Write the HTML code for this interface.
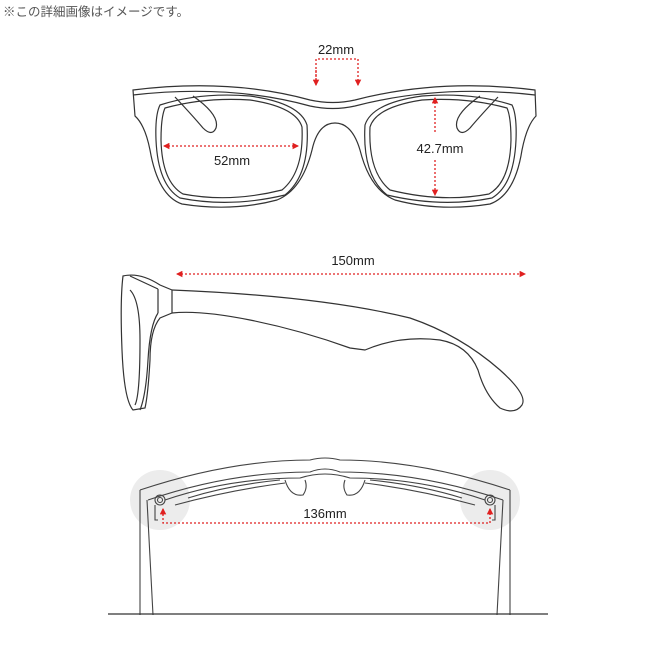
<!DOCTYPE html>
<html><head><meta charset="utf-8"><style>
body{margin:0;background:#fff;width:650px;height:650px;overflow:hidden}
svg{display:block}
text{font-family:"Liberation Sans","Noto Sans CJK JP",sans-serif}
</style></head><body>
<svg width="650" height="650" viewBox="0 0 650 650" xmlns="http://www.w3.org/2000/svg">
<defs>
<marker id="a" viewBox="0 0 6 6" refX="5" refY="3" markerWidth="5" markerHeight="5" orient="auto-start-reverse"><path d="M0,0L6,3L0,6z" fill="#e02020"/></marker>
</defs>
<text x="3" y="16" font-size="12.5" fill="#555">※この詳細画像はイメージです。</text>

<!-- FRONT VIEW -->
<g fill="none" stroke="#333" stroke-width="1.2">
<path d="M133,90 Q230,78 310,100 Q333,105 355,100 Q440,78 535,90 L536,116 Q527,125 522,150 Q515,195 490,204 Q440,212 395,200 Q370,190 360,150 Q352,123 335,123 Q318,123 312,150 Q302,190 277,200 Q232,212 182,204 Q158,196 150,150 Q145,125 135,116 Z"/>
<path d="M133,95 Q230,84 310,106 Q333,111 355,106 Q440,84 535,95"/>
<path d="M160,105 Q200,92 250,96 Q300,103 307,125 Q310,175 285,195 Q230,208 180,198 Q158,185 156,140 Q155,115 160,105Z"/>
<path d="M165,108 Q205,97 250,100 Q296,107 302,127 Q304,172 282,190 Q230,203 183,194 Q162,182 161,140 Q161,117 165,108Z"/>
<path d="M512,105 Q472,92 422,96 Q372,103 365,125 Q362,175 387,195 Q442,208 492,198 Q514,185 516,140 Q517,115 512,105Z"/>
<path d="M507,108 Q467,97 422,100 Q376,107 370,127 Q368,172 390,190 Q442,203 489,194 Q510,182 511,140 Q511,117 507,108Z"/>
<path d="M175,97 Q192,115 203,128 Q212,137 216,128 Q220,115 193,96"/>
<path d="M498,97 Q481,115 470,128 Q461,137 457,128 Q453,115 480,96"/>
</g>
<g stroke="#e02020" stroke-width="1.3" stroke-dasharray="2,2" fill="none">
<path d="M316,85 L316,59 L358,59 L358,85" marker-end="url(#a)"/>
<line x1="316" y1="70" x2="316" y2="85" marker-end="url(#a)"/>
<line x1="164" y1="146" x2="298" y2="146" marker-start="url(#a)" marker-end="url(#a)"/>
<line x1="435" y1="132" x2="435" y2="98" marker-end="url(#a)"/>
<line x1="435" y1="160" x2="435" y2="195" marker-end="url(#a)"/>
</g>
<text x="336" y="54" font-size="13" text-anchor="middle" fill="#222">22mm</text>
<text x="232" y="165" font-size="13" text-anchor="middle" fill="#222">52mm</text>
<text x="440" y="153" font-size="13" text-anchor="middle" fill="#222">42.7mm</text>

<!-- SIDE VIEW -->
<g fill="none" stroke="#333" stroke-width="1.2">
<path d="M123,276 Q140,272 160,285 L172,290 L172,313 L160,318 Q150,330 150,360 Q148,395 145,408 L133,410 Q124,400 122,350 Q120,300 123,276Z"/>
<path d="M130,290 Q140,300 140,340 Q140,395 135,405"/>
<line x1="158" y1="289" x2="158" y2="313"/>
<line x1="130" y1="276" x2="158" y2="289"/>
<path d="M158,313 Q150,325 148,360 Q146,395 140,410"/>
<path d="M172,290 Q320,296 410,318 Q460,335 500,370 Q528,395 522,405 Q515,415 500,408 Q485,395 478,370 Q468,345 440,340 Q400,335 365,350 L350,348 Q300,330 250,320 Q200,310 172,313"/>
</g>
<line x1="177" y1="274" x2="525" y2="274" stroke="#e02020" stroke-width="1.3" stroke-dasharray="2,2" marker-start="url(#a)" marker-end="url(#a)"/>
<text x="353" y="265" font-size="13" text-anchor="middle" fill="#222">150mm</text>

<!-- TOP VIEW -->
<circle cx="160" cy="500" r="30" fill="#ececec"/>
<circle cx="490" cy="500" r="30" fill="#ececec"/>
<g fill="none" stroke="#444" stroke-width="1.1">
<path d="M140,490 Q230,460 310,460 Q325,456 340,460 Q420,460 510,490"/>
<path d="M148,500 Q230,472 310,472 Q325,466 340,472 Q420,472 503,500"/>
<path d="M165,500 Q230,478 300,478 Q325,470 350,478 Q420,478 485,500"/>
<path d="M175,505 Q230,490 285,483 M475,505 Q420,490 365,483"/>
<path d="M188,498 Q230,485 280,480 M462,498 Q420,485 370,480"/>
<path d="M285,480 Q290,497 303,495 Q308,488 305,480 M365,480 Q360,497 347,495 Q342,488 345,480"/>
<path d="M140,490 L140,615 M147,500 L153,615 M510,490 L510,615 M503,500 L497,615"/>
<circle cx="160" cy="500" r="5"/><circle cx="160" cy="500" r="2.5"/>
<circle cx="490" cy="500" r="5"/><circle cx="490" cy="500" r="2.5"/>
<path d="M155,505 L155,520 L158,520 M495,505 L495,520 L492,520"/>
</g>
<line x1="108" y1="614" x2="548" y2="614" stroke="#333" stroke-width="1.3"/>
<g stroke="#e02020" stroke-width="1.3" stroke-dasharray="2,2" fill="none">
<path d="M163,510 L163,523 L490,523 L490,510"/>
<line x1="163" y1="515" x2="163" y2="509" marker-end="url(#a)"/>
<line x1="490" y1="515" x2="490" y2="509" marker-end="url(#a)"/>
</g>
<text x="325" y="518" font-size="13" text-anchor="middle" fill="#222">136mm</text>
</svg>
</body></html>
